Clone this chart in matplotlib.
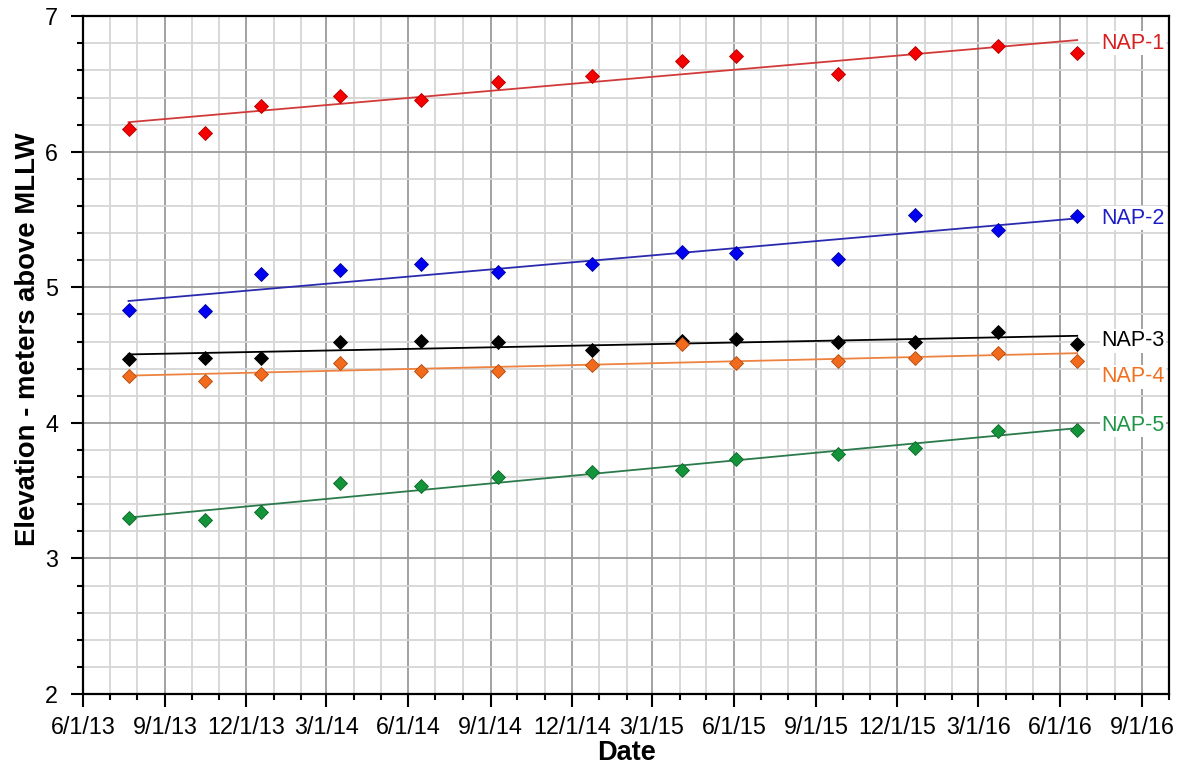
import matplotlib
matplotlib.use("Agg")
import matplotlib.pyplot as plt
import matplotlib.dates as mdates
from matplotlib.ticker import MultipleLocator, FuncFormatter
import numpy as np
from datetime import datetime

plt.rcParams['font.family'] = ['Liberation Sans', 'DejaVu Sans']

# Survey dates
survey_dates = ["2013-07-22", "2013-10-16", "2013-12-18", "2014-03-16", "2014-06-15",
                "2014-09-09", "2014-12-24", "2015-04-04", "2015-06-03", "2015-09-26",
                "2015-12-21", "2016-03-23", "2016-06-20"]

# Elevation (m above MLLW) for each benchmark
nap1 = [6.167, 6.138, 6.339, 6.408, 6.379, 6.516, 6.560, 6.668, 6.703, 6.573, 6.725, 6.777, 6.725]
nap2 = [4.834, 4.826, 5.099, 5.128, 5.175, 5.111, 5.175, 5.261, 5.251, 5.209, 5.535, 5.423, 5.528]
nap3 = [4.472, 4.477, 4.477, 4.595, 4.605, 4.600, 4.534, 4.607, 4.622, 4.600, 4.595, 4.670, 4.581]
nap4 = [4.347, 4.308, 4.362, 4.445, 4.379, 4.382, 4.426, 4.581, 4.440, 4.460, 4.475, 4.516, 4.460]
nap5 = [3.298, 3.281, 3.343, 3.554, 3.536, 3.600, 3.634, 3.649, 3.733, 3.772, 3.814, 3.941, 3.949]

series_names = ["NAP-1", "NAP-2", "NAP-3", "NAP-4", "NAP-5"]
label_y = [6.80, 5.51, 4.605, 4.34, 3.98]

marker_colors = ["#F50000", "#0000F0", "#000000", "#F26A1B", "#14943A"]
edge_colors = ["#B00000", "#0000A0", "#000000", "#B04A10", "#0C6628"]
line_colors = ["#D23A3A", "#2A2AB0", "#000000", "#EE8240", "#2B7A4B"]
text_colors = ["#D81E1E", "#1E1EC8", "#000000", "#F07020", "#1E9646"]

x = [datetime.strptime(d, "%Y-%m-%d") for d in survey_dates]
xn = mdates.date2num(x)

fig = plt.figure(figsize=(11.78, 7.70), dpi=100)
ax = fig.add_axes([0.0705, 0.0987, 0.9219, 0.8803])

for vals, mc, ec, lc in zip([nap1, nap2, nap3, nap4, nap5], marker_colors, edge_colors, line_colors):
    coef = np.polyfit(xn, vals, 1)
    ends = np.array([xn[0], xn[-1]])
    ax.plot(mdates.num2date(ends), np.polyval(coef, ends), color=lc, lw=1.3, zorder=3)
    ax.plot(x, vals, linestyle='none', marker='D', ms=7.2, mfc=mc, mec=ec, mew=0.6, zorder=4)

label_x = datetime(2016, 7, 17)
for name, ly, tc in zip(series_names, label_y, text_colors):
    ax.text(label_x, ly, name, color=tc, fontsize=15.5, va='center', ha='left', zorder=5,
            bbox=dict(facecolor='white', edgecolor='none', pad=1.0))

ax.set_xlim(datetime(2013, 6, 1), datetime(2016, 10, 1))
ax.set_ylim(2, 7)

ax.xaxis.set_major_locator(mdates.MonthLocator(bymonth=[3, 6, 9, 12]))
ax.xaxis.set_minor_locator(mdates.MonthLocator())
ax.xaxis.set_major_formatter(FuncFormatter(
    lambda v, pos: (lambda d: f"{d.month}/{d.day}/{d.year % 100:02d}")(mdates.num2date(v))))
ax.yaxis.set_major_locator(MultipleLocator(1))
ax.yaxis.set_minor_locator(MultipleLocator(0.2))

ax.grid(which='minor', color='#D6D6D6', lw=1.3, zorder=0)
ax.grid(which='major', color='#9A9A9A', lw=1.3, zorder=1)
ax.set_axisbelow(True)

ax.tick_params(which='major', direction='out', length=9, width=1.5, labelsize=16.8)
ax.tick_params(which='minor', direction='out', length=4.5, width=1.5)
ax.tick_params(axis='x', which='major', pad=7)
ax.tick_params(axis='y', which='major', pad=9)
for s in ax.spines.values():
    s.set_linewidth(1.6)
    s.set_color('black')

ax.set_xlabel("Date", fontsize=19.5, fontweight='bold')
ax.xaxis.set_label_coords(0.5, -0.068)
ax.set_ylabel("Elevation - meters above MLLW", fontsize=19.8, fontweight='bold')
ax.yaxis.set_label_coords(-0.039, 0.524)

fig.savefig("out.png", dpi=100)
